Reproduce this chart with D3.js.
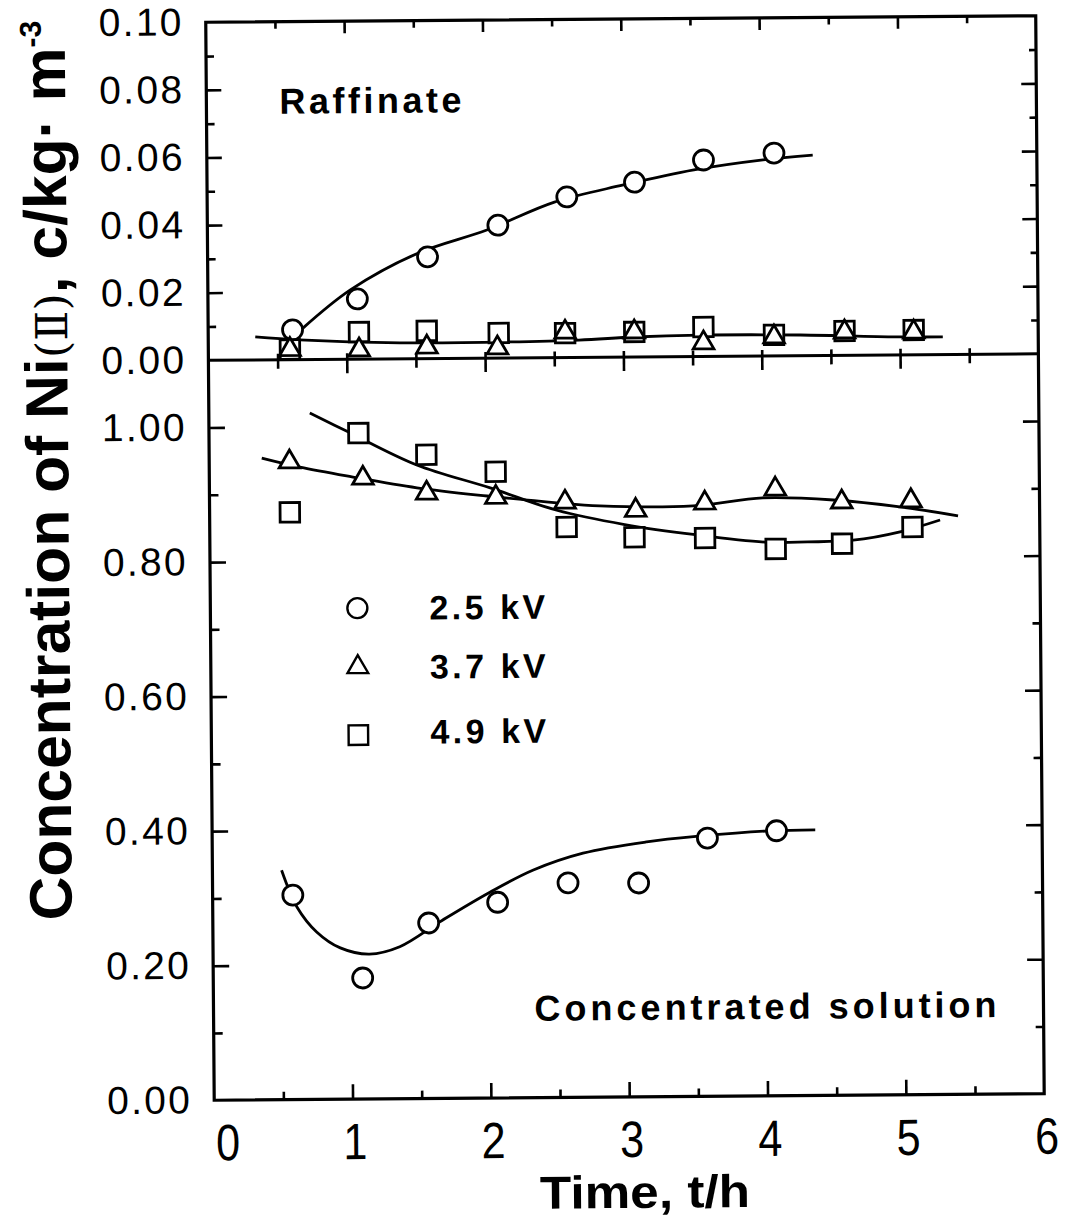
<!DOCTYPE html>
<html>
<head>
<meta charset="utf-8">
<script src="https://cdn.jsdelivr.net/npm/d3@7"></script>
<style>
  body { margin: 0; background: #fff; }
  svg { display: block; }
  text { font-family: "Liberation Sans", Arial, Helvetica, sans-serif; fill: #000; }
</style>
</head>
<body>
<svg id="graphique" width="1069" height="1220"></svg>
<script>
// ---- data (time in h, concentration in kg/m3)

// raffinate
var tRaff25 = [0.61, 1.08, 1.59, 2.10, 2.60, 3.09, 3.59, 4.10];
var cRaff25 = [0.0088, 0.0178, 0.0301, 0.0393, 0.0475, 0.0517, 0.0581, 0.0600];
var tRaff37 = [0.59, 1.09, 1.58, 2.09, 2.58, 3.08, 3.58, 4.09, 4.60, 5.10];
var cRaff37 = [0.0030, 0.0027, 0.0034, 0.0030, 0.0075, 0.0074, 0.0040, 0.0056, 0.0069, 0.0067];
var tRaff49 = [0.59, 1.09, 1.58, 2.10, 2.58, 3.08, 3.58, 4.09, 4.60, 5.10];
var cRaff49 = [0.0030, 0.0080, 0.0082, 0.0074, 0.0072, 0.0074, 0.0087, 0.0062, 0.0072, 0.0073];

// concentrated solution
var tConc25 = [0.58, 1.08, 1.56, 2.06, 2.57, 3.08, 3.58, 4.08];
var cConc25 = [0.304, 0.180, 0.261, 0.291, 0.319, 0.318, 0.384, 0.394];
var tConc37 = [0.58, 1.11, 1.57, 2.07, 2.57, 3.08, 3.58, 4.09, 4.57, 5.07];
var cConc37 = [0.948, 0.923, 0.900, 0.893, 0.885, 0.872, 0.882, 0.902, 0.882, 0.883];
var tConc49 = [0.58, 1.08, 1.57, 2.07, 2.58, 3.07, 3.58, 4.09, 4.57, 5.08];
var cConc49 = [0.873, 0.990, 0.957, 0.931, 0.848, 0.832, 0.830, 0.813, 0.820, 0.844];

// fitted curves
var fitRaff25T = [0.685, 1.03, 1.52, 2.02, 2.51, 3.01, 3.52, 4.02, 4.38];
var fitRaff25C = [0.0093, 0.0205, 0.0312, 0.0379, 0.0460, 0.0509, 0.0552, 0.0580, 0.0593];
var fitRaffHiT = [0.34, 0.66, 1.385, 2.11, 2.68, 3.08, 3.55, 4.28, 5.0, 5.31];
var fitRaffHiC = [0.0068, 0.0058, 0.0047, 0.0047, 0.0051, 0.0059, 0.0063, 0.0061, 0.0053, 0.0052];
var fitConc25T = [0.50, 0.61, 0.75, 0.92, 1.13, 1.35, 1.66, 2.005, 2.32, 2.68, 3.14, 3.53, 4.03, 4.36];
var fitConc25C = [0.341, 0.286, 0.249, 0.225, 0.2155, 0.226, 0.265, 0.306, 0.3385, 0.363, 0.379, 0.387, 0.394, 0.395];
var fitConc37T = [0.38, 0.656, 1.03, 1.50, 2.006, 2.51, 2.82, 3.495, 4.0, 4.51, 4.99, 5.41];
var fitConc37C = [0.954, 0.940, 0.925, 0.908, 0.895, 0.884, 0.879, 0.878, 0.889, 0.885, 0.874, 0.860];
var fitConc49T = [0.73, 1.005, 1.50, 2.03, 2.51, 3.0, 3.51, 4.03, 4.32, 4.65, 4.99, 5.28];
var fitConc49C = [1.0205, 0.992, 0.942, 0.907, 0.873, 0.851, 0.835, 0.823, 0.823, 0.825, 0.837, 0.854];

// ticks
var xLabels = [0, 1, 2, 3, 4, 5, 6];
var xMajor = [1, 2, 3, 4, 5];
var xMinor = [0.5, 1.5, 2.5, 3.5, 4.5, 5.5];
var yTopLabels = [0, 0.02, 0.04, 0.06, 0.08, 0.10];
var yTopMajor = [0.02, 0.04, 0.06, 0.08];
var yTopMinor = [0.01, 0.03, 0.05, 0.07, 0.09];
var yBotLabels = [0, 0.2, 0.4, 0.6, 0.8, 1.0];
var yBotMajor = [0.2, 0.4, 0.6, 0.8, 1.0];
var yBotMinor = [0.1, 0.3, 0.5, 0.7, 0.9];

var legendLabels = ["2.5 kV", "3.7 kV", "4.9 kV"];

function zip(ts, cs){
	return ts.map(function(t, i){ return {t: t, c: cs[i]}; });
}

var svg = d3.select("#graphique");
// the scanned figure is slightly tilted
var g = svg.append("g").attr("transform", "rotate(-0.45,626,561)");

var L = 210, R = 1040, T = 19, J = 357, B = 1097;
var x = d3.scaleLinear().domain([0, 6]).range([L, R]);
var yTop = d3.scaleLinear().domain([0, 0.1]).range([J, T]);
var yBot = d3.scaleLinear().domain([0, 1.1]).range([B, J]);

function tickAxis(axis, scale, values, size, tx, ty){
	var a = g.append("g")
		.attr("transform", "translate(" + tx + "," + ty + ")")
		.call(axis(scale).tickValues(values).tickSize(size).tickFormat(""));
	a.select(".domain").remove();
	a.selectAll("line").attr("stroke", "#000").attr("stroke-width", 2.6);
}

// y ticks, both sides
tickAxis(d3.axisLeft, yTop, yTopMajor, -15, L, 0);
tickAxis(d3.axisLeft, yTop, yTopMinor, -8, L, 0);
tickAxis(d3.axisRight, yTop, yTopMajor, -15, R, 0);
tickAxis(d3.axisRight, yTop, yTopMinor, -7, R, 0);
tickAxis(d3.axisLeft, yBot, yBotMajor, -16, L, 0);
tickAxis(d3.axisLeft, yBot, yBotMinor, -9, L, 0);
tickAxis(d3.axisRight, yBot, yBotMajor, -16, R, 0);
tickAxis(d3.axisRight, yBot, yBotMinor, -8, R, 0);

// x ticks
tickAxis(d3.axisTop, x, xMajor, -12, 0, T);
tickAxis(d3.axisTop, x, xMinor, -7, 0, T);
tickAxis(d3.axisBottom, x, xMajor.concat(xMinor), -6, 0, J);
tickAxis(d3.axisTop, x, xMajor, -14, 0, J);
tickAxis(d3.axisTop, x, xMinor, -9, 0, J);
tickAxis(d3.axisBottom, x, xMajor, -15, 0, B);
tickAxis(d3.axisBottom, x, xMinor, -8, 0, B);

// frame + middle line
g.append("rect")
	.attr("x", L).attr("y", T).attr("width", R - L).attr("height", B - T)
	.attr("fill", "none").attr("stroke", "#000").attr("stroke-width", 3.2);
g.append("line")
	.attr("x1", L).attr("x2", R).attr("y1", J).attr("y2", J)
	.attr("stroke", "#000").attr("stroke-width", 3);

// tick labels
function labelAxis(axis, scale, values, fmt, tx, ty){
	var a = g.append("g")
		.attr("transform", "translate(" + tx + "," + ty + ")")
		.call(axis(scale).tickValues(values).tickSize(0).tickPadding(22).tickFormat(fmt));
	a.select(".domain").remove();
	return a.selectAll("text");
}

labelAxis(d3.axisLeft, yTop, yTopLabels, d3.format(".2f"), L, 0)
	.attr("font-size", 39).attr("letter-spacing", 2.3).attr("font-family", null).attr("fill", "#000");
labelAxis(d3.axisLeft, yBot, yBotLabels, d3.format(".2f"), L, 0)
	.attr("font-size", 39).attr("letter-spacing", 2.3).attr("font-family", null).attr("fill", "#000");
labelAxis(d3.axisBottom, x, xLabels, d3.format("d"), 0, B)
	.attr("font-size", 51).attr("font-family", null).attr("fill", "#000")
	.attr("y", 60).attr("dy", 0)
	.attr("dx", function(d){ return d == 0 ? 13 : 2; })
	.attr("textLength", 24).attr("lengthAdjust", "spacingAndGlyphs");

// fitted lines
var line = function(ys){
	return d3.line()
		.x(function(d){ return x(d.t); })
		.y(function(d){ return ys(d.c); })
		.curve(d3.curveCatmullRom.alpha(0.5));
};

var fits = [
	{data: zip(fitRaff25T, fitRaff25C), ys: yTop},
	{data: zip(fitRaffHiT, fitRaffHiC), ys: yTop},
	{data: zip(fitConc25T, fitConc25C), ys: yBot},
	{data: zip(fitConc37T, fitConc37C), ys: yBot},
	{data: zip(fitConc49T, fitConc49C), ys: yBot}
];
fits.forEach(function(f){
	g.append("path")
		.attr("d", line(f.ys)(f.data))
		.attr("fill", "none")
		.attr("stroke", "#000")
		.attr("stroke-width", 2.8);
});

// markers
var symCircle = d3.symbol().type(d3.symbolCircle).size(Math.PI * 10 * 10);
var symTri = d3.symbol().type(d3.symbolTriangle).size(185);
var symSq = d3.symbol().type(d3.symbolSquare).size(19.5 * 19.5);

function drawMarkers(data, ys, sym){
	g.append("g").selectAll("path")
		.data(data)
		.join("path")
		.attr("transform", function(d){ return "translate(" + x(d.t) + "," + ys(d.c) + ")"; })
		.attr("d", sym())
		.attr("fill", "#fff")
		.attr("stroke", "#000")
		.attr("stroke-width", 2.8);
}

drawMarkers(zip(tRaff25, cRaff25), yTop, symCircle);
drawMarkers(zip(tRaff49, cRaff49), yTop, symSq);
drawMarkers(zip(tRaff37, cRaff37), yTop, symTri);
drawMarkers(zip(tConc25, cConc25), yBot, symCircle);
drawMarkers(zip(tConc49, cConc49), yBot, symSq);
drawMarkers(zip(tConc37, cConc37), yBot, symTri);

// legend
var legendSyms = [symCircle, symTri, symSq];
var legendY = [606, 665, 733];
var legendBase = [618, 677, 742];
legendLabels.forEach(function(lab, i){
	g.append("path")
		.attr("transform", "translate(357," + legendY[i] + ")")
		.attr("d", legendSyms[i]())
		.attr("fill", "#fff").attr("stroke", "#000").attr("stroke-width", 2.4);
	g.append("text")
		.attr("x", 429).attr("y", legendBase[i])
		.attr("font-size", 34).attr("font-weight", "bold").attr("letter-spacing", 3.5)
		.text(lab);
});

// panel captions
g.append("text")
	.attr("x", 283).attr("y", 111)
	.attr("font-size", 36).attr("font-weight", "bold").attr("letter-spacing", 3.5)
	.text("Raffinate");
g.append("text")
	.attr("x", 531).attr("y", 1020)
	.attr("font-size", 36).attr("font-weight", "bold").attr("letter-spacing", 4)
	.text("Concentrated solution");

// axis titles
g.append("text")
	.attr("x", 640).attr("y", 1208)
	.attr("text-anchor", "middle")
	.attr("font-size", 46).attr("font-weight", "bold")
	.attr("textLength", 210).attr("lengthAdjust", "spacingAndGlyphs")
	.text("Time, t/h");

var yTitle = g.append("text")
	.attr("transform", "translate(69,466) rotate(-90)")
	.attr("text-anchor", "middle")
	.attr("font-size", 60).attr("font-weight", "bold")
	.attr("textLength", 900).attr("lengthAdjust", "spacingAndGlyphs");
yTitle.append("tspan").text("Concentration of Ni");
yTitle.append("tspan").attr("font-weight", "normal").attr("font-family", "'DejaVu Serif', serif").attr("font-size", 44).text("(\u2161)");
yTitle.append("tspan").text(", c/kg\u00b7 m");
yTitle.append("tspan").attr("font-size", 30).attr("dy", -24).text("-3");
</script>
</body>
</html>
